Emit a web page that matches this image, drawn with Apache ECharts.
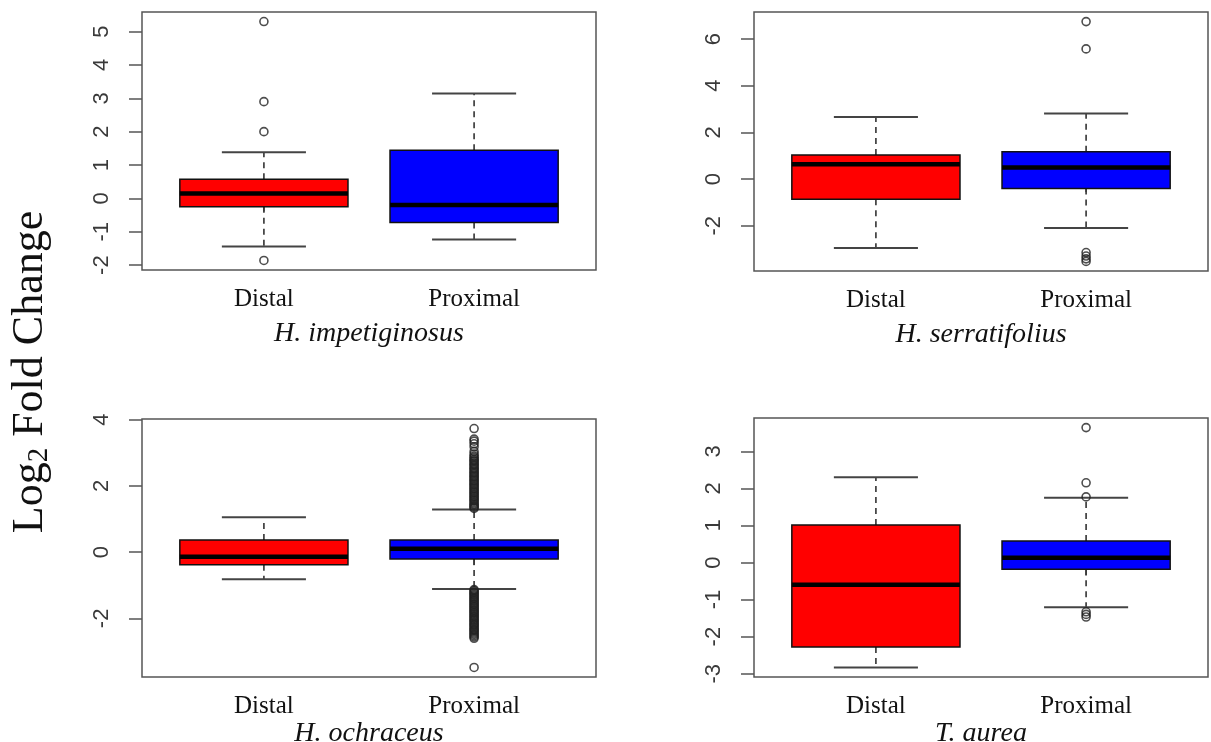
<!DOCTYPE html>
<html>
<head>
<meta charset="utf-8">
<script src="https://cdn.jsdelivr.net/npm/echarts@6/dist/echarts.min.js"></script>
<style>
html,body{margin:0;padding:0;background:#fff;}
#chart{width:1211px;height:742px;}
</style>
</head>
<body>
<div id="chart"></div>
<script>
// ---------- data ----------
const categories = ['Distal', 'Proximal'];
const species = ['H. impetiginosus', 'H. serratifolius', 'H. ochraceus', 'T. aurea'];
const boxColors = ['#ff0000', '#0000ff'];

// box stats per group: [lower whisker, Q1, median, Q3, upper whisker]
const impetiginosusBoxes = [[-1.44, -0.25, 0.15, 0.57, 1.38], [-1.23, -0.72, -0.20, 1.44, 3.14]];
const serratifoliusBoxes = [[-2.96, -0.87, 0.63, 1.03, 2.66], [-2.10, -0.40, 0.50, 1.17, 2.81]];
const ochraceusBoxes = [[-0.82, -0.38, -0.14, 0.37, 1.05], [-1.11, -0.21, 0.10, 0.37, 1.29]];
const aureaBoxes = [[-2.83, -2.28, -0.60, 1.01, 2.30], [-1.21, -0.18, 0.13, 0.58, 1.75]];

// outliers per group: [Distal], [Proximal]
const impetiginosusOutliers = [[5.30, 2.90, 2.00, -1.86], []];
const serratifoliusOutliers = [[], [6.75, 5.58, -3.15, -3.30, -3.42, -3.53]];
const ochraceusOutliers = [[], [
  3.73, 3.41, 3.35, 3.27, 3.18, 3.04, 2.96, 2.90, 2.86, 2.81, 2.77, 2.74, 2.69, 2.65, 2.62, 2.57,
  2.53, 2.50, 2.45, 2.41, 2.38, 2.33, 2.29, 2.26, 2.21, 2.17, 2.14, 2.09, 2.05, 2.02, 1.97, 1.93,
  1.90, 1.85, 1.81, 1.78, 1.73, 1.69, 1.66, 1.61, 1.57, 1.54, 1.49, 1.45, 1.42, 1.38, 1.35, 1.32,
  -1.13, -1.16, -1.20, -1.23, -1.27, -1.30, -1.34, -1.38, -1.41, -1.45, -1.48, -1.52, -1.56, -1.59,
  -1.63, -1.66, -1.70, -1.74, -1.77, -1.81, -1.84, -1.88, -1.92, -1.95, -1.99, -2.03, -2.06, -2.10,
  -2.14, -2.18, -2.21, -2.25, -2.29, -2.33, -2.36, -2.40, -2.44, -2.48, -2.52, -2.56, -2.60, -3.48
]];
const aureaOutliers = [[], [3.64, 2.15, 1.77, -1.33, -1.40, -1.47]];

// y tick labels
const impetiginosusTicks = [-2, -1, 0, 1, 2, 3, 4, 5];
const serratifoliusTicks = [-2, 0, 2, 4, 6];
const ochraceusTicks = [-2, 0, 2, 4];
const aureaTicks = [-3, -2, -1, 0, 1, 2, 3];

// ---------- layout ----------
const panels = [
  {boxes: impetiginosusBoxes, outliers: impetiginosusOutliers, ticks: impetiginosusTicks, nameGap: 50, grid: {left: 142, top: 12, width: 454, height: 258}},
  {boxes: serratifoliusBoxes, outliers: serratifoliusOutliers, ticks: serratifoliusTicks, nameGap: 50, grid: {left: 754, top: 12, width: 454, height: 259}},
  {boxes: ochraceusBoxes, outliers: ochraceusOutliers, ticks: ochraceusTicks, nameGap: 39, grid: {left: 142, top: 419, width: 454, height: 258}},
  {boxes: aureaBoxes, outliers: aureaOutliers, ticks: aureaTicks, nameGap: 39, grid: {left: 754, top: 418, width: 454, height: 259}}
];

const chart = echarts.init(document.getElementById('chart'), null, {renderer: 'canvas'});

const grids = [], xAxes = [], yAxes = [], series = [];

panels.forEach((p, i) => {
  let all = [];
  p.boxes.forEach(b => { all = all.concat(b); });
  p.outliers.forEach(o => { all = all.concat(o); });
  const lo = Math.min.apply(null, all), hi = Math.max.apply(null, all);
  const ext = (hi - lo) * 0.04;

  grids.push(Object.assign({
    show: true, borderColor: '#555', borderWidth: 1.5, backgroundColor: 'transparent',
    containLabel: false, outerBoundsMode: 'none'
  }, p.grid));

  xAxes.push({
    gridIndex: i, type: 'value', min: 0.42, max: 2.58,
    axisLine: {show: false},
    splitLine: {show: false},
    axisTick: {show: true, customValues: [1, 2], length: 13, lineStyle: {color: '#555', width: 1.5}},
    axisLabel: {
      show: true, customValues: [1, 2],
      formatter: v => categories[Math.round(v) - 1],
      fontFamily: 'Liberation Serif', fontSize: 25, color: '#111', margin: 17
    },
    name: species[i], nameLocation: 'middle', nameGap: p.nameGap,
    nameTextStyle: {fontFamily: 'Liberation Serif', fontStyle: 'italic', fontSize: 28, color: '#111'}
  });

  yAxes.push({
    gridIndex: i, type: 'value', min: lo - ext, max: hi + ext,
    axisLine: {show: false},
    splitLine: {show: false},
    axisTick: {show: true, customValues: p.ticks, length: 13, lineStyle: {color: '#555', width: 1.5}},
    axisLabel: {
      show: true, customValues: p.ticks, rotate: 90,
      fontFamily: 'Liberation Sans', fontSize: 22, color: '#3a3a3a', margin: 29
    }
  });

  series.push({
    type: 'custom',
    xAxisIndex: i, yAxisIndex: i,
    data: p.boxes.map((b, k) => [k + 1].concat(b)),
    encode: {x: 0, y: [1, 2, 3, 4, 5]},
    renderItem: function (params, api) {
      const x = api.value(0);
      const pLo = api.coord([x, api.value(1)]);
      const pQ1 = api.coord([x, api.value(2)]);
      const pMed = api.coord([x, api.value(3)]);
      const pQ3 = api.coord([x, api.value(4)]);
      const pHi = api.coord([x, api.value(5)]);
      const half = api.size([0.8, 0])[0] / 2;
      const sHalf = half / 2;
      const cx = pMed[0];
      const wStyle = {stroke: '#333', lineWidth: 1.6, lineDash: [6, 5]};
      const sStyle = {stroke: '#444', lineWidth: 2};
      return {
        type: 'group',
        children: [
          {type: 'line', shape: {x1: cx, y1: pQ3[1], x2: cx, y2: pHi[1]}, style: wStyle},
          {type: 'line', shape: {x1: cx, y1: pQ1[1], x2: cx, y2: pLo[1]}, style: wStyle},
          {type: 'line', shape: {x1: cx - sHalf, y1: pHi[1], x2: cx + sHalf, y2: pHi[1]}, style: sStyle},
          {type: 'line', shape: {x1: cx - sHalf, y1: pLo[1], x2: cx + sHalf, y2: pLo[1]}, style: sStyle},
          {type: 'rect', shape: {x: cx - half, y: pQ3[1], width: 2 * half, height: pQ1[1] - pQ3[1]},
            style: {fill: boxColors[params.dataIndex], stroke: '#111', lineWidth: 1.5}},
          {type: 'line', shape: {x1: cx - half, y1: pMed[1], x2: cx + half, y2: pMed[1]},
            style: {stroke: '#000', lineWidth: 4.5}}
        ]
      };
    },
    z: 2
  });

  const pts = [];
  p.outliers.forEach((o, k) => o.forEach(v => pts.push([k + 1, v])));
  series.push({
    type: 'scatter',
    xAxisIndex: i, yAxisIndex: i,
    data: pts,
    symbol: 'circle', symbolSize: 8,
    itemStyle: {color: 'transparent', borderColor: '#222', borderWidth: 1.6},
    silent: true,
    z: 3
  });
});

chart.setOption({
  animation: false,
  backgroundColor: '#fff',
  grid: grids,
  xAxis: xAxes,
  yAxis: yAxes,
  series: series,
  graphic: [{
    type: 'text',
    x: 33, y: 372,
    rotation: Math.PI / 2,
    style: {
      text: '{a|Log}{s|2}{a| Fold Change}',
      align: 'center', verticalAlign: 'middle',
      rich: {
        a: {fontFamily: 'Liberation Serif', fontSize: 44, lineHeight: 50, verticalAlign: 'top', fill: '#111'},
        s: {fontFamily: 'Liberation Serif', fontSize: 29, lineHeight: 29, padding: [17, 0, 0, 0], verticalAlign: 'top', fill: '#111'}
      }
    }
  }]
});
</script>
</body>
</html>
